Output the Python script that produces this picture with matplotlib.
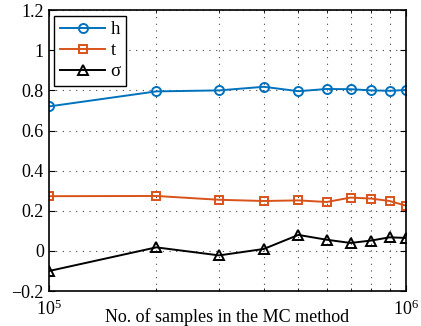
import matplotlib.pyplot as plt
from matplotlib.ticker import LogLocator, NullFormatter, FixedLocator

# Data
samples = [1e5, 2e5, 3e5, 4e5, 5e5, 6e5, 7e5, 8e5, 9e5, 1e6]
h_vals = [0.72, 0.795, 0.80, 0.818, 0.796, 0.807, 0.806, 0.80, 0.798, 0.802]
t_vals = [0.273, 0.274, 0.255, 0.249, 0.252, 0.244, 0.266, 0.261, 0.249, 0.226]
sigma_vals = [-0.10, 0.018, -0.022, 0.010, 0.080, 0.056, 0.040, 0.052, 0.068, 0.065]

plt.rcParams['font.family'] = ['Liberation Serif', 'DejaVu Serif']
plt.rcParams['mathtext.fontset'] = 'stix'

fig = plt.figure(figsize=(4.21, 3.26), dpi=100)
ax = fig.add_axes([0.116, 0.107, 0.848, 0.862])

ax.plot(samples, h_vals, color='#0072BD', marker='o', markersize=6.5,
        markerfacecolor='none', markeredgewidth=1.4, linewidth=1.4, label='h')
ax.plot(samples, t_vals, color='#D95319', marker='s', markersize=5.5,
        markerfacecolor='none', markeredgewidth=1.4, linewidth=1.4, label='t')
ax.plot(samples, sigma_vals, color='black', marker='^', markersize=7,
        markerfacecolor='none', markeredgewidth=1.4, linewidth=1.4, label='σ')

ax.set_xscale('log')
ax.set_xlim(1e5, 1e6)
ax.set_ylim(-0.2, 1.2)
ax.set_yticks([-0.2, 0, 0.2, 0.4, 0.6, 0.8, 1, 1.2])
ax.set_yticklabels(['\u22120.2', '0', '0.2', '0.4', '0.6', '0.8', '1', '1.2'])
ax.xaxis.set_major_locator(FixedLocator([1e5, 1e6]))
ax.xaxis.set_minor_locator(LogLocator(base=10, subs=range(2, 10)))
ax.xaxis.set_minor_formatter(NullFormatter())

# Dotted grid at y majors and x minors
grid_style = dict(linestyle=(0, (1, 5)), color='#444444', linewidth=0.8)
ax.grid(True, which='major', axis='y', **grid_style)
ax.grid(True, which='minor', axis='x', **grid_style)

ax.tick_params(which='both', direction='in', top=True, right=True, labelsize=13)
ax.tick_params(which='major', length=4)
ax.tick_params(which='minor', length=2)
ax.tick_params(axis='x', which='major', pad=6)
for s in ax.spines.values():
    s.set_linewidth(1.2)

ax.set_xlabel('No. of samples in the MC method', fontsize=13)
ax.xaxis.set_label_coords(0.5, -0.06)

leg = ax.legend(loc='upper left', fontsize=13.5, fancybox=False, framealpha=1,
                edgecolor='black', handlelength=2.4, borderpad=0.3,
                labelspacing=0.2, handletextpad=0.3, borderaxespad=0.3)
leg.get_frame().set_linewidth(1.0)

fig.savefig('out.png', dpi=100)
